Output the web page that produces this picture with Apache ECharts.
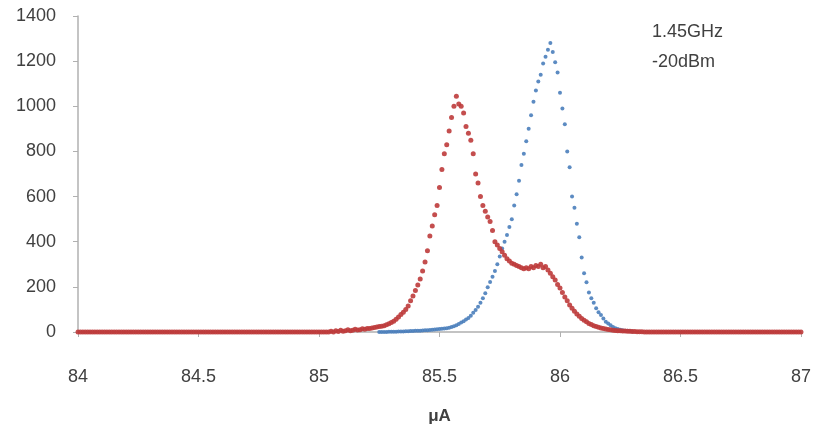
<!DOCTYPE html>
<html>
<head>
<meta charset="utf-8">
<script src="https://cdn.jsdelivr.net/npm/echarts@6/dist/echarts.min.js"></script>
<style>html,body{margin:0;padding:0;background:#fff}#c{width:814px;height:430px}</style>
</head>
<body>
<div id="c"></div>
<script>
// x grid of the measurement (μA), sampled every 0.01
const xStep = 0.01;
const redStart = 84.00;
const blueStart = 85.25;
const yTicks = [0, 200, 400, 600, 800, 1000, 1200, 1400];
const xTicks = [84, 84.5, 85, 85.5, 86, 86.5, 87];
const xName = 'μA';
const annotation = ['1.45GHz', '-20dBm'];

// red series: 84.00 .. 87.00
const redValues = [
 0,0,0,0,0,0,0,0,0,0, 0,0,0,0,0,0,0,0,0,0,
 0,0,0,0,0,0,0,0,0,0, 0,0,0,0,0,0,0,0,0,0,
 0,0,0,0,0,0,0,0,0,0, 0,0,0,0,0,0,0,0,0,0,
 0,0,0,0,0,0,0,0,0,0, 0,0,0,0,0,0,0,0,0,0,
 0,0,0,0,0,0,0,0,0,0, 0,0,0,0,0,0,0,0,0,0,
 // 85.00
 0,0,0,0,0,3,0,5,2,8, 3,6,10,5,8,12,9,10,14,12,
 // 85.20
 15,16,18,20,22,24,26,28,32,36, 42,48,56,66,78,88,100,115,138,160,
 // 85.40
 184,208,235,270,310,360,425,470,520,560, 640,720,790,830,890,950,1000,1045,1010,1000,
 // 85.60
 970,910,880,850,790,700,660,600,560,535, 510,490,450,400,385,370,355,340,325,315,
 // 85.80
 305,300,295,290,285,280,285,280,290,285, 295,290,300,285,290,275,260,245,230,210,
 // 86.00
 195,175,155,138,120,105,92,80,70,60, 52,45,38,33,28,24,21,18,15,13,
 // 86.20
 11,10,8,7,6,5,4,4,3,3, 2,2,1,1,1,0,0,0,0,0,
 0,0,0,0,0,0,0,0,0,0, 0,0,0,0,0,0,0,0,0,0,
 0,0,0,0,0,0,0,0,0,0, 0,0,0,0,0,0,0,0,0,0,
 0,0,0,0,0,0,0,0,0,0, 0,0,0,0,0,0,0,0,0,0,
 0
];

// blue series: 85.25 .. 86.30
const blueValues = [
 0,0,0,0,1,1,1,1,2,2, 2,3,3,4,4,5,
 // 85.41
 5,6,7,8,8,9,10,11,12,13, 14,15,17,19,22,25,30,35,42,48,
 // 85.61
 55,62,72,85,98,112,130,150,172,198, 222,245,270,300,335,370,400,430,465,500,
 // 85.81
 560,610,670,740,790,845,900,960,1020,1070, 1110,1140,1190,1220,1250,1280,1240,1195,1150,1060,
 // 86.01
 990,920,800,730,600,550,480,420,330,260, 220,175,150,130,105,88,75,60,45,38,
 // 86.21
 30,22,17,13,10,8,6,5,3,2
];

const redData = redValues.map((v, i) => [+(redStart + i * xStep).toFixed(2), v]);
const blueData = blueValues.map((v, i) => [+(blueStart + i * xStep).toFixed(2), v]);

const labelFont = {color: '#404040', fontSize: 18, fontFamily: 'Liberation Sans'};
const chart = echarts.init(document.getElementById('c'), null, {renderer: 'canvas'});
chart.setOption({
  animation: false,
  backgroundColor: '#fff',
  grid: {left: 78, right: 10, top: 16, bottom: 95},
  xAxis: {
    type: 'value', min: xTicks[0], max: xTicks[xTicks.length - 1], interval: 0.5,
    name: xName, nameLocation: 'middle', nameGap: 76,
    nameTextStyle: {color: '#404040', fontSize: 17, fontWeight: 'bold', fontFamily: 'Liberation Sans'},
    axisLine: {lineStyle: {color: '#B0B0B0', width: 1.5}},
    axisTick: {show: true, length: 5, lineStyle: {color: '#B0B0B0'}},
    axisLabel: Object.assign({margin: 36, formatter: v => String(v)}, labelFont),
    splitLine: {show: false}
  },
  yAxis: {
    type: 'value', min: yTicks[0], max: yTicks[yTicks.length - 1], interval: 200,
    axisLine: {show: true, lineStyle: {color: '#B0B0B0', width: 1.5}},
    axisTick: {show: true, length: 5, lineStyle: {color: '#B0B0B0'}},
    axisLabel: Object.assign({margin: 22, formatter: v => String(v)}, labelFont),
    splitLine: {show: false}
  },
  graphic: [
    {type: 'text', left: 652, top: 23, style: {text: annotation[0], fill: '#404040', font: '18px "Liberation Sans"'}},
    {type: 'text', left: 652, top: 53, style: {text: annotation[1], fill: '#404040', font: '18px "Liberation Sans"'}}
  ],
  series: [
    {type: 'scatter', data: blueData, symbol: 'circle', symbolSize: 4,
     itemStyle: {color: '#4A7EBB', opacity: 0.9}},
    {type: 'scatter', data: redData, symbol: 'circle', symbolSize: 5,
     itemStyle: {color: '#BE3B3B', opacity: 0.9}}
  ]
});
</script>
</body>
</html>
